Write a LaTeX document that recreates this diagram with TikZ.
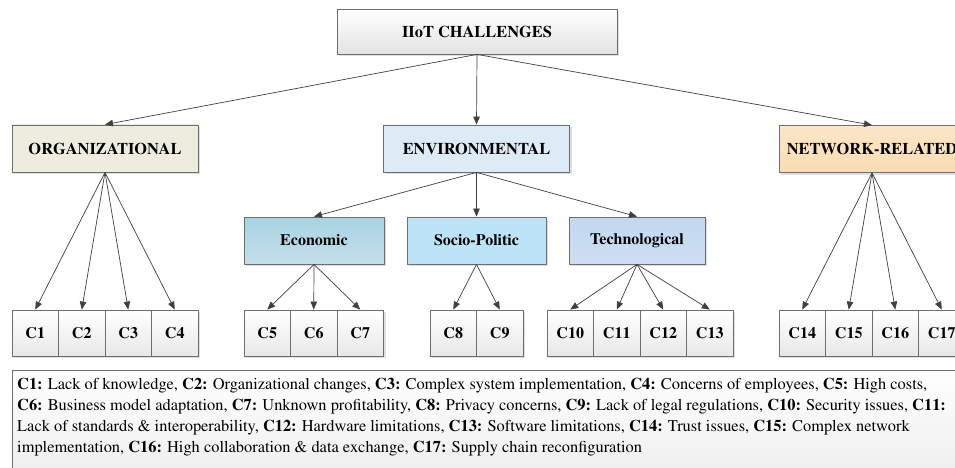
\documentclass[tikz,border=0pt]{standalone}
\usepackage[T1]{fontenc}
\usepackage{mathptmx}
\usetikzlibrary{arrows.meta,shadows}
\definecolor{bordergray}{HTML}{6E6E6E}
\definecolor{arrowgray}{HTML}{404040}
\definecolor{orgfill}{HTML}{EDEDDF}
\definecolor{envfill}{HTML}{DCEBF6}
\definecolor{netfillA}{HTML}{FCE6C6}
\definecolor{netfillB}{HTML}{F9DCB4}
\definecolor{ecoA}{HTML}{A8D2E2}
\definecolor{ecoB}{HTML}{C3E0EB}
\definecolor{socfill}{HTML}{BDE3F6}
\definecolor{tecA}{HTML}{C3D7F0}
\definecolor{tecB}{HTML}{CCDFF2}
\tikzset{
  box/.style={draw=bordergray, line width=0.8pt, rectangle, inner sep=0pt, anchor=center,
    drop shadow={shadow xshift=2pt, shadow yshift=-2pt, opacity=0.25, fill=gray}},
  topbox/.style={box, top color=white, bottom color=gray!22, minimum width=280pt, minimum height=45pt, font=\bfseries\fontsize{16.4}{18}\selectfont},
  catbox/.style={box, minimum width=186pt, minimum height=47pt, font=\bfseries\fontsize{16.4}{18}\selectfont},
  subbox/.style={box, minimum height=47pt, font=\bfseries\fontsize{16}{18}\selectfont},
  cbox/.style={box, top color=white, bottom color=gray!18, minimum width=46.5pt, minimum height=46pt, font=\bfseries\fontsize{16}{18}\selectfont},
  arr/.style={draw=arrowgray, line width=0.7pt, -{Triangle[length=8pt,width=6.5pt]}},
}
\begin{document}
\begin{tikzpicture}[x=1pt,y=-1pt]
\useasboundingbox (0,0) rectangle (955,468);
\fill[white] (0,0) rectangle (955,468);
\clip (0,0) rectangle (955,468);
% top
\node[topbox] (top) at (477,31.5) {IIoT CHALLENGES};
% categories
\node[catbox, top color=orgfill, bottom color=orgfill] (org) at (105,148.5) {ORGANIZATIONAL};
\node[catbox, fill=envfill] (env) at (476.5,148.5) {ENVIRONMENTAL};
\node[catbox, top color=netfillA, bottom color=netfillB] (net) at (872,149) {NETWORK-RELATED};
% sub categories
\node[subbox, minimum width=140pt, top color=ecoA, bottom color=ecoB] (eco) at (314,240.5) {Economic};
\node[subbox, minimum width=139pt, fill=socfill] (soc) at (476.5,240.5) {Socio-Politic};
\node[subbox, minimum width=136pt, top color=tecA, bottom color=tecB] (tec) at (637,240.5) {Technological};
% C boxes
\node[cbox] (c1) at (35.25,333) {C1};
\node[cbox] (c2) at (81.75,333) {C2};
\node[cbox] (c3) at (128.25,333) {C3};
\node[cbox] (c4) at (174.75,333) {C4};
\node[cbox] (c5) at (267.25,333) {C5};
\node[cbox] (c6) at (313.75,333) {C6};
\node[cbox] (c7) at (360.25,333) {C7};
\node[cbox] (c8) at (453.25,333) {C8};
\node[cbox] (c9) at (499.75,333) {C9};
\node[cbox] (c10) at (570.25,333) {C10};
\node[cbox] (c11) at (616.75,333) {C11};
\node[cbox] (c12) at (663.25,333) {C12};
\node[cbox] (c13) at (709.75,333) {C13};
\node[cbox] (c14) at (802.25,333) {C14};
\node[cbox] (c15) at (848.75,333) {C15};
\node[cbox] (c16) at (895.25,333) {C16};
\node[cbox] (c17) at (941.75,333) {C17};
% arrows
\foreach \t in {org,env,net} \draw[arr] (top.south) -- (\t.north);
\foreach \t in {eco,soc,tec} \draw[arr] (env.south) -- (\t.north);
\foreach \t in {c1,c2,c3,c4} \draw[arr] (org.south) -- (\t.north);
\foreach \t in {c5,c6,c7} \draw[arr] (eco.south) -- (\t.north);
\foreach \t in {c8,c9} \draw[arr] (soc.south) -- (\t.north);
\foreach \t in {c10,c11,c12,c13} \draw[arr] (tec.south) -- (\t.north);
\foreach \t in {c14,c15,c16,c17} \draw[arr] (net.south) -- (\t.north);
% legend
\node[draw=bordergray, line width=0.8pt, top color=white, bottom color=gray!14, rectangle, anchor=north west,
  minimum width=960pt, minimum height=110pt, inner sep=0pt] (legbox) at (12,370) {};
\node[anchor=base west, align=left, inner sep=0pt, font=\fontsize{16.4}{21}\selectfont] (legtext) at (17,452)
{\textbf{C1:} Lack of knowledge, \textbf{C2:} Organizational changes, \textbf{C3:} Complex system implementation, \textbf{C4:} Concerns of employees, \textbf{C5:} High costs,\\
\textbf{C6:} Business model adaptation, \textbf{C7:} Unknown profitability, \textbf{C8:} Privacy concerns, \textbf{C9:} Lack of legal regulations, \textbf{C10:} Security issues, \textbf{C11:}\\
Lack of standards \& interoperability, \textbf{C12:} Hardware limitations, \textbf{C13:} Software limitations, \textbf{C14:} Trust issues, \textbf{C15:} Complex network\\
implementation, \textbf{C16:} High collaboration \& data exchange, \textbf{C17:} Supply chain reconfiguration};
\end{tikzpicture}
\end{document}
